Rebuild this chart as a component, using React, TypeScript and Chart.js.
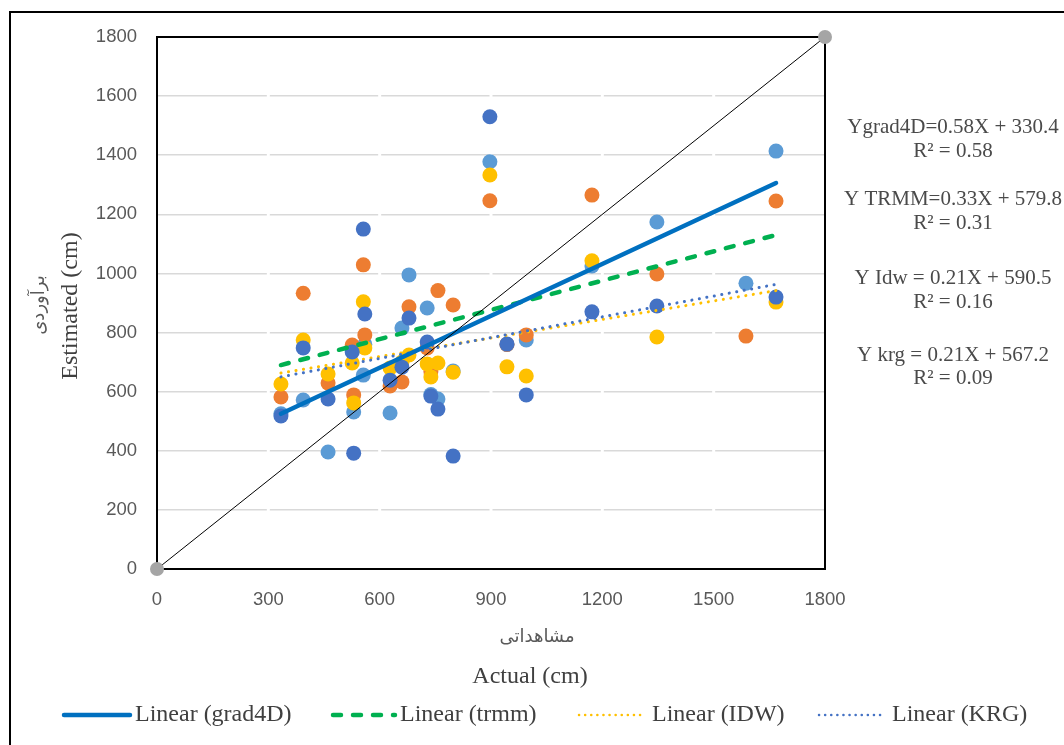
import React, { useEffect, useRef } from "react";
import { Chart, registerables } from "chart.js";

Chart.register(...registerables);

// Observed (actual) values, cm
const actualCm = [334, 394, 461, 526, 530, 556, 560, 628, 660, 679, 728, 738, 757, 798, 897, 943, 995, 1172, 1347, 1587, 1668];
// Estimated values per method, cm
const grad4D = [525, 572, 396, 740, 531, 656, 760, 528, 815, 995, 883, 590, 575, 670, 1378, 760, 775, 1025, 1174, 967, 1414];
const trmm = [582, 933, 629, 758, 589, 1029, 792, 619, 633, 887, 748, 667, 942, 893, 1246, 760, 792, 1265, 998, 788, 1245];
const idw = [626, 775, 660, 697, 562, 904, 748, 680, 700, 724, 694, 650, 697, 666, 1333, 684, 653, 1043, 785, null, 903];
const krg = [518, 748, 575, 734, 392, 1150, 863, 639, 683, 849, 768, 585, 541, 382, 1530, 761, 589, 870, 890, null, 920];

// Linear trendlines (start / end)
const trendX = [334, 1668];
const grad4DTrend = [525, 1306];
const trmmTrend = [690, 1130];
const idwTrend = [663, 942];
const krgTrend = [650, 963];

// 1:1 line
const oneToOneX = [0, 1800];
const oneToOneY = [0, 1800];

const xTicks = [0, 300, 600, 900, 1200, 1500, 1800];
const yTicks = [0, 200, 400, 600, 800, 1000, 1200, 1400, 1600, 1800];

const legendLabels = ["Linear (grad4D)", "Linear (trmm)", "Linear (IDW)", "Linear (KRG)"];
const equationLines = [
  "Ygrad4D=0.58X + 330.4",
  "R² = 0.58",
  "Y TRMM=0.33X + 579.8",
  "R² = 0.31",
  "Y Idw = 0.21X + 590.5",
  "R² = 0.16",
  "Y krg = 0.21X + 567.2",
  "R² = 0.09",
];
const xTitleFa = "مشاهداتی";
const xTitleEn = "Actual (cm)";
const yTitleFa = "برآوردی";
const yTitleEn = "Estimated (cm)";

const pts = (xs: number[], ys: (number | null)[]) =>
  xs.map((x, i) => ({ x, y: ys[i] })).filter((p) => p.y !== null) as { x: number; y: number }[];

const C_LB = "#5B9BD5";
const C_OR = "#ED7D31";
const C_YE = "#FFC000";
const C_DB = "#4472C4";
const C_G4 = "#0070C0";
const C_TR = "#00B050";

const overlay = {
  id: "overlay",
  beforeDatasetsDraw(chart: any) {
    const { ctx, chartArea: a, scales } = chart;
    const x = scales.x;
    ctx.save();
    ctx.strokeStyle = "#ffffff";
    ctx.lineWidth = 3;
    for (const v of xTicks) {
      if (v <= 0 || v >= 1800) continue;
      const px = x.getPixelForValue(v);
      ctx.beginPath();
      ctx.moveTo(px, a.top);
      ctx.lineTo(px, a.bottom);
      ctx.stroke();
    }
    ctx.strokeStyle = "#000000";
    ctx.lineWidth = 2;
    ctx.strokeRect(a.left, a.top, a.right - a.left, a.bottom - a.top);
    ctx.restore();
  },
  afterDraw(chart: any) {
    const { ctx } = chart;
    ctx.save();
    // outer border
    ctx.strokeStyle = "#000000";
    ctx.lineWidth = 2;
    ctx.beginPath();
    ctx.moveTo(10, 760);
    ctx.lineTo(10, 12);
    ctx.lineTo(1080, 12);
    ctx.stroke();

    // equations
    ctx.fillStyle = "#4a4a4a";
    ctx.textAlign = "center";
    ctx.textBaseline = "middle";
    ctx.font = '21px "Liberation Serif", serif';
    const eqY = [127, 151, 199, 223, 278, 302, 355, 378];
    equationLines.forEach((t, i) => ctx.fillText(t, 953, eqY[i]));

    // axis titles
    ctx.fillStyle = "#404040";
    ctx.font = '24px "Liberation Serif", serif';
    ctx.fillText(xTitleEn, 530, 677);
    ctx.font = '18px "DejaVu Sans", sans-serif';
    ctx.fillStyle = "#595959";
    ctx.fillText(xTitleFa, 537, 637);

    ctx.save();
    ctx.translate(71, 306);
    ctx.rotate(-Math.PI / 2);
    ctx.fillStyle = "#404040";
    ctx.font = '24px "Liberation Serif", serif';
    ctx.fillText(yTitleEn, 0, 0);
    ctx.restore();

    ctx.save();
    ctx.translate(39, 305);
    ctx.rotate(-Math.PI / 2);
    ctx.fillStyle = "#595959";
    ctx.font = '18px "DejaVu Sans", sans-serif';
    ctx.fillText(yTitleFa, 0, 0);
    ctx.restore();

    // legend
    const items = [
      { color: C_G4, dash: [], w: 4.5, x0: 64, x1: 130, tx: 135 },
      { color: C_TR, dash: [8, 12], w: 4.5, x0: 333, x1: 395, tx: 400 },
      { color: C_YE, dash: [0.1, 6], w: 2.5, x0: 579, x1: 645, tx: 652 },
      { color: C_DB, dash: [0.1, 6], w: 2.5, x0: 819, x1: 885, tx: 892 },
    ];
    const ly = 715;
    items.forEach((it, i) => {
      ctx.strokeStyle = it.color;
      ctx.lineWidth = it.w;
      ctx.lineCap = "round";
      ctx.setLineDash(it.dash);
      ctx.beginPath();
      ctx.moveTo(it.x0, ly);
      ctx.lineTo(it.x1, ly);
      ctx.stroke();
      ctx.setLineDash([]);
      ctx.fillStyle = "#404040";
      ctx.textAlign = "left";
      ctx.font = '24px "Liberation Serif", serif';
      ctx.fillText(legendLabels[i], it.tx, ly);
    });
    ctx.restore();
  },
};

export default function App() {
  const ref = useRef<HTMLCanvasElement | null>(null);
  useEffect(() => {
    if (!ref.current) return;
    const scatter = (label: string, ys: (number | null)[], color: string, order: number) => ({
      label,
      data: pts(actualCm, ys),
      showLine: false,
      pointRadius: 7.5,
      pointHoverRadius: 7.5,
      pointBackgroundColor: color,
      pointBorderWidth: 0,
      borderColor: color,
      order,
    });
    const trend = (label: string, ys: number[], color: string, width: number, dash: number[], order: number) => ({
      label,
      data: pts(trendX, ys),
      showLine: true,
      pointRadius: 0,
      borderColor: color,
      borderWidth: width,
      borderDash: dash,
      borderCapStyle: "round",
      order,
    });
    const chart = new Chart(ref.current, {
      type: "scatter",
      data: {
        datasets: [
          scatter("grad4D", grad4D, C_LB, 10),
          scatter("trmm", trmm, C_OR, 9),
          scatter("IDW", idw, C_YE, 8),
          scatter("KRG", krg, C_DB, 7),
          trend("Linear (IDW)", idwTrend, C_YE, 3, [0.1, 7.5], 6),
          trend("Linear (KRG)", krgTrend, C_DB, 3, [0.1, 7.5], 5),
          trend("Linear (trmm)", trmmTrend, C_TR, 4.5, [8, 12], 4),
          trend("Linear (grad4D)", grad4DTrend, C_G4, 4.5, [], 3),
          {
            label: "1:1",
            data: pts(oneToOneX, oneToOneY),
            showLine: true,
            borderColor: "#000000",
            borderWidth: 1,
            pointRadius: 7,
            pointBackgroundColor: "#A5A5A5",
            pointBorderWidth: 0,
            order: 1,
          } as any,
        ] as any,
      },
      options: {
        animation: false,
        responsive: false,
        devicePixelRatio: 1,
        clip: false as any,
        layout: { padding: { left: 0, top: 37, right: 239, bottom: 0 } },
        plugins: { legend: { display: false }, tooltip: { enabled: false } },
        scales: {
          x: {
            type: "linear",
            min: 0,
            max: 1800,
            afterFit: (s: any) => {
              s.height = 176;
            },
            afterBuildTicks: (s: any) => {
              s.ticks = xTicks.map((v) => ({ value: v }));
            },
            grid: { display: false, drawTicks: false },
            border: { display: false },
            ticks: {
              padding: 20,
              color: "#595959",
              font: { family: '"Liberation Sans", sans-serif', size: 18.5 },
              callback: (v: any) => String(v),
              maxRotation: 0,
            },
          },
          y: {
            type: "linear",
            min: 0,
            max: 1800,
            afterFit: (s: any) => {
              s.width = 157;
            },
            afterBuildTicks: (s: any) => {
              s.ticks = yTicks.map((v) => ({ value: v }));
            },
            grid: { color: "#D9D9D9", lineWidth: 1.5, drawTicks: false },
            border: { display: false },
            ticks: {
              padding: 20,
              color: "#595959",
              font: { family: '"Liberation Sans", sans-serif', size: 18.5 },
              callback: (v: any) => String(v),
            },
          },
        },
      } as any,
      plugins: [overlay as any],
    });
    return () => chart.destroy();
  }, []);
  return (
    <div style={{ position: "fixed", left: 0, top: 0, width: 1064, height: 745, background: "#fff" }}>
      <canvas ref={ref} width={1064} height={745} style={{ width: 1064, height: 745, display: "block" }} />
    </div>
  );
}
